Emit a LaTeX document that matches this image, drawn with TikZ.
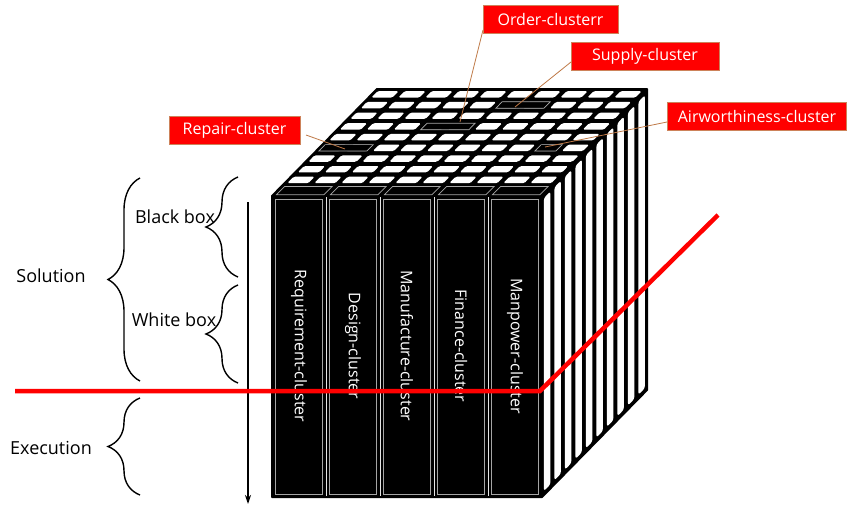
\documentclass[tikz,border=0pt]{standalone}
\usepackage{fontspec}
\setmainfont{Open Sans}
\usetikzlibrary{decorations.pathreplacing,arrows.meta}
\definecolor{leader}{RGB}{190,120,70}
\definecolor{lblred}{RGB}{255,0,0}
\definecolor{lblborder}{RGB}{205,130,90}
\definecolor{cellgray}{RGB}{165,165,165}
\newcommand{\cubecell}[5]{\path[#1] ({272+270*(#2)+105*(#4)},{196-107*(#4)}) -- ({272+270*(#3)+105*(#4)},{196-107*(#4)}) -- ({272+270*(#3)+105*(#5)},{196-107*(#5)}) -- ({272+270*(#2)+105*(#5)},{196-107*(#5)}) -- cycle;}
\begin{document}
\begin{tikzpicture}[x=1pt,y=-1pt,
  whitecell/.style={fill=white,rounded corners=1.5pt},
  hicell/.style={fill=black,draw=cellgray,line width=0.7pt},
  coltop/.style={fill=black,draw=cellgray,line width=0.7pt},
  stripstyle/.style={fill=white,rounded corners=2.5pt},
  coltext/.style={text=white,rotate=-90,font=\fontsize{16}{19}\selectfont},
  sidetext/.style={font=\fontsize{18}{21}\selectfont,text=black},
  lbl/.style={fill=lblred,draw=lblborder,line width=0.6pt,text=white,font=\fontsize{16}{19}\selectfont,minimum height=28pt,inner sep=0pt},
  leaderline/.style={draw=leader,line width=0.8pt},
  bracestyle/.style={decorate,decoration={brace,amplitude=32pt},line width=1.4pt},
  redline/.style={draw=red,line width=4.5pt,line join=miter}
]
\useasboundingbox (0,0) rectangle (849,506);
% cube silhouette
\draw[fill=black,line width=2pt,line join=round] (272,196) -- (377,89) -- (647,89) -- (647,390) -- (542,497) -- (272,497) -- cycle;
% top cells
\foreach \k in {1,...,9}{
  \foreach \i in {0,...,9}{
    \cubecell{whitecell}{(\i+0.1)/10}{(\i+0.88)/10}{(\k+0.2)/10}{(\k+0.8)/10}
  }
}
% highlighted cluster cells
\cubecell{hicell}{0.01}{0.188}{0.42}{0.48}
\cubecell{hicell}{0.31}{0.488}{0.62}{0.68}
\cubecell{hicell}{0.51}{0.688}{0.82}{0.88}
\cubecell{hicell}{0.81}{0.888}{0.42}{0.48}
% column tops
\foreach \c in {0,...,4}{
  \cubecell{coltop}{(2*\c+0.12)/10}{(2*\c+1.88)/10}{0.012}{0.088}
}
% right face strips
\foreach \k in {0,...,9}{
  \pgfmathsetmacro\ta{(\k+0.18)/10}
  \pgfmathsetmacro\tb{(\k+0.8)/10}
  \path[stripstyle] ({542+105*\ta},{196-107*\ta+4}) -- ({542+105*\tb},{196-107*\tb+4}) -- ({542+105*\tb},{497-107*\tb-4}) -- ({542+105*\ta},{497-107*\ta-4}) -- cycle;
}
% front columns
\foreach \c in {0,...,4}{
  \draw[cellgray,line width=0.8pt] ({272+54*\c+3.5},199.5) rectangle ({272+54*\c+50.5},494);
}
\foreach \c in {1,...,4}{
  \draw[white!80!gray,line width=1pt] ({272+54*\c},197) -- ({272+54*\c},496);
}
\node[coltext] (c1) at (299,346) {Requirement-cluster};
\node[coltext] (c2) at (353,346) {Design-cluster};
\node[coltext] (c3) at (407,346) {Manufacture-cluster};
\node[coltext] (c4) at (461,346) {Finance-cluster};
\node[coltext] (c5) at (515,346) {Manpower-cluster};
% cluster targets
\coordinate (trep) at (345,149);
\coordinate (tord) at (460,122);
\coordinate (tsup) at (515,107);
\coordinate (tair) at (545,147);
% labels
\node[lbl,minimum width=131pt] (lrep) at (234.5,130) {Repair-cluster};
\node[lbl,minimum width=135pt] (lord) at (550.5,19) {Order-clusterr};
\node[lbl,minimum width=148pt] (lsup) at (645,56.5) {Supply-cluster};
\node[lbl,minimum width=179pt] (lair) at (757,116.5) {Airworthiness-cluster};
\coordinate (srep) at (306,135);
\coordinate (sord) at (483,30);
\coordinate (ssup) at (571,62);
\coordinate (sair) at (667,122);
\draw[leaderline] (srep) -- (trep);
\draw[leaderline] (sord) -- (tord);
\draw[leaderline] (ssup) -- (tsup);
\draw[leaderline] (sair) -- (tair);
% left side
\coordinate (atop) at (248,202);
\coordinate (abot) at (248,504);
\draw[line width=1.4pt,-{Stealth[length=9pt,width=6pt]}] (atop) -- (abot);
\draw[bracestyle] (140,381) -- (140,178);
\draw[bracestyle] (140,495) -- (140,398);
\draw[bracestyle] (238,277) -- (238,177);
\draw[bracestyle] (238,383) -- (238,285);
\node[sidetext] (sol) at (51,276) {Solution};
\node[sidetext] (exe) at (51,448) {Execution};
\node[sidetext] (bb) at (175,217) {Black box};
\node[sidetext] (wb) at (174,320) {White box};
% red line
\coordinate (r1) at (15,391);
\coordinate (r2) at (540,391);
\coordinate (r3) at (718,215);
\draw[redline] (r1) -- (r2) -- (r3);
\end{tikzpicture}
\end{document}
